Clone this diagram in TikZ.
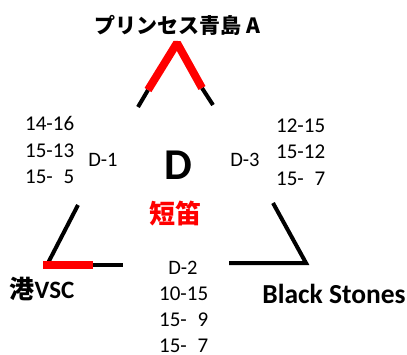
\documentclass[tikz,border=0pt]{standalone}
\usepackage{fontspec}
\setmainfont{Carlito}
\newfontfamily\jpfont{Noto Sans CJK JP}
\usetikzlibrary{calc}

\begin{document}
\begin{tikzpicture}[x=1pt,y=-1pt]

        \useasboundingbox (0,0) rectangle (407,354);

        % Corners of the bracket
        \coordinate (top) at (177,43);
        \coordinate (topL) at (148,90);
        \coordinate (topLend) at (138,107);
        \coordinate (topR) at (202,88);
        \coordinate (topRend) at (213,105);
        \coordinate (left) at (48,263);
        \coordinate (leftup) at (78,205);
        \coordinate (leftR) at (43,265);
        \coordinate (leftRend) at (93,265);
        \coordinate (leftend) at (123,265);
        \coordinate (right) at (306,263);
        \coordinate (rightup) at (273,203);
        \coordinate (rightend) at (229,263);

        % Lines of the bracket
        \draw[line width=4pt] (topL) -- (topLend);
        \draw[line width=4pt] (topR) -- (topRend);
        \draw[red, line width=8pt, line join=bevel] (topL) -- (top) -- (topR);
        \draw[line width=4pt] (leftup) -- (left);
        \draw[line width=4pt] (leftRend) -- (leftend);
        \draw[red, line width=8pt] (leftR) -- (leftRend);
        \draw[line width=4pt] (rightup) -- (right) -- (rightend);

        % Teams
        \node[font=\jpfont\bfseries\fontsize{21}{24}\selectfont] (teamA) at (177,25) {プリンセス青島\hspace{5pt}A};
        \node[font=\bfseries\fontsize{25}{30}\selectfont] (teamV) at (42,289) {{\jpfont 港}VSC};
        \node[font=\bfseries\fontsize{27.5}{30}\selectfont] (teamB) at (334,294) {Black Stones};

        % Block name
        \node[font=\bfseries\fontsize{44}{48}\selectfont] (block) at (178,165) {D};
        \node[red, font=\jpfont\bfseries\fontsize{26}{30}\selectfont] (inst) at (175,214) {短笛};

        % Matches and scores
        \node[font=\fontsize{20.5}{24}\selectfont] (D1) at (103,160) {D-1};
        \node[font=\fontsize{20.5}{24}\selectfont] (D3) at (245,160) {D-3};
        \node[font=\fontsize{20.5}{24}\selectfont] (D2) at (183,268) {D-2};
        \node[anchor=west, align=left, inner sep=0pt, font=\fontsize{21}{26.5}\selectfont] (scoreD1) at (25,150)
                {14-16\\15-13\\15-\phantom{1}5};
        \node[anchor=west, align=left, inner sep=0pt, font=\fontsize{21}{26.5}\selectfont] (scoreD3) at (276,152)
                {12-15\\15-12\\15-\phantom{1}7};
        \node[anchor=west, align=left, inner sep=0pt, font=\fontsize{21}{26}\selectfont] (scoreD2) at (159,320)
                {10-15\\15-\phantom{1}9\\15-\phantom{1}7};

\end{tikzpicture}
\end{document}
